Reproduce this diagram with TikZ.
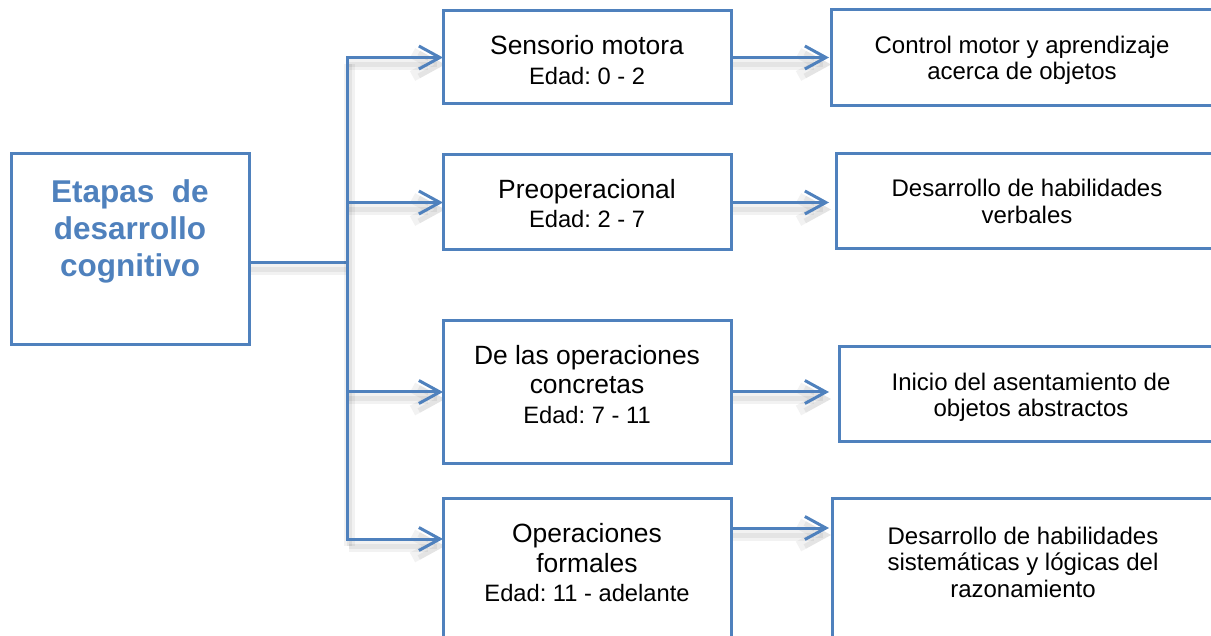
\documentclass[tikz,border=0pt]{standalone}
\usepackage{fontspec}
\setmainfont{Liberation Sans}
\usetikzlibrary{arrows.meta, calc, backgrounds}
\definecolor{boxblue}{RGB}{79,129,189}
\newcommand{\agefont}{\fontsize{23.7}{29.5}\selectfont}
\frenchspacing

\begin{document}
\begin{tikzpicture}[x=1pt, y=-1pt,
	box/.style={draw=boxblue, line width=3pt, inner sep=0pt, outer sep=0pt, fill=white},
	titletext/.style={align=center, text=boxblue, font=\fontsize{31.5}{37}\selectfont\bfseries},
	stagetext/.style={align=center, font=\fontsize{26.4}{29.5}\selectfont},
	resulttext/.style={align=center, font=\fontsize{24}{26.5}\selectfont},
	link/.style={draw=boxblue, line width=3pt, line cap=rect,
		preaction={draw=black, draw opacity=.05, line width=11pt, transform canvas={shift={(2pt,-7pt)}}},
		preaction={draw=black, draw opacity=.06, line width=5pt, transform canvas={shift={(2pt,-7pt)}}}},
	linkarrow/.style={link, -{Straight Barb[length=21pt, width=23pt]}}]
	\useasboundingbox (0,0) rectangle (1211,636);
	\clip (0,0) rectangle (1211,636);
	
	%boxes
	\node[box, minimum width=238, minimum height=191] (etapas) at (130,249.5) {};
	%
	\node[box, minimum width=288, minimum height=93]  (sm)   at (587,57.5)  {};
	\node[box, minimum width=288, minimum height=95]  (pre)  at (587,202.5) {};
	\node[box, minimum width=288, minimum height=142] (conc) at (587,392)   {};
	\node[box, minimum width=288, minimum height=162] (form) at (587,579)   {};	%runs off the page
	%
	\node[box, minimum width=385, minimum height=96]  (ctrl)  at (1023.5,58)  {};
	\node[box, minimum width=380, minimum height=95]  (verb)  at (1026,201.5) {};
	\node[box, minimum width=377, minimum height=94]  (abst)  at (1027.5,394) {};
	\node[box, minimum width=384, minimum height=162] (razon) at (1024,579)   {};
	
	%labels
	\node[titletext] (etapastxt) at (130,231.8) {Etapas\ \ de\\desarrollo\\cognitivo};
	%
	\node[stagetext] (smtxt)   at (587,60.3)  {Sensorio motora\\{\agefont Edad: 0 - 2}};
	\node[stagetext] (pretxt)  at (587,203.5) {Preoperacional\\{\agefont Edad: 2 - 7}};
	\node[stagetext] (conctxt) at (587,384.5) {De las operaciones\\concretas\\{\agefont Edad: 7 - 11}};
	\node[stagetext] (formtxt) at (587,562.8) {Operaciones\\formales\\{\agefont Edad: 11 - adelante}};
	%
	\node[resulttext] (ctrltxt)  at (1022,60.2)  {Control motor y aprendizaje\\acerca de objetos};
	\node[resulttext] (verbtxt)  at (1027,201.2) {Desarrollo de habilidades\\verbales};
	\node[resulttext] (absttxt)  at (1031,397.2) {Inicio del asentamiento de\\objetos abstractos};
	\node[resulttext] (razontxt) at (1023,562.2) {Desarrollo de habilidades\\sistemáticas y lógicas del\\razonamiento};
	
	%arrows
	\coordinate (hub) at (347,263);
	\coordinate (spinetop) at (347,57.5);
	\coordinate (spinebot) at (347,539);
	\coordinate (formout) at ($(form.north east)+(0,30)$);
	\begin{scope}[on background layer]
		\draw[link] (etapas.east |- hub) -- (hub);
		\draw[link] (spinetop) -- (spinebot);
		\draw[linkarrow] (spinetop) -- (sm.west);
		\draw[linkarrow] (spinetop |- pre.west) -- (pre.west);
		\draw[linkarrow] (spinetop |- conc.west) -- (conc.west);
		\draw[linkarrow] (spinebot) -- (spinebot -| form.west);
		%
		\draw[linkarrow, shorten >=2pt]  (sm.east) -- (sm.east -| ctrl.west);
		\draw[linkarrow, shorten >=7pt]  (pre.east) -- (pre.east -| verb.west);
		\draw[linkarrow, shorten >=10pt] (conc.east) -- (conc.east -| abst.west);
		\draw[linkarrow, shorten >=3pt]  (formout) -- (formout -| razon.west);
	\end{scope}
\end{tikzpicture}
\end{document}
